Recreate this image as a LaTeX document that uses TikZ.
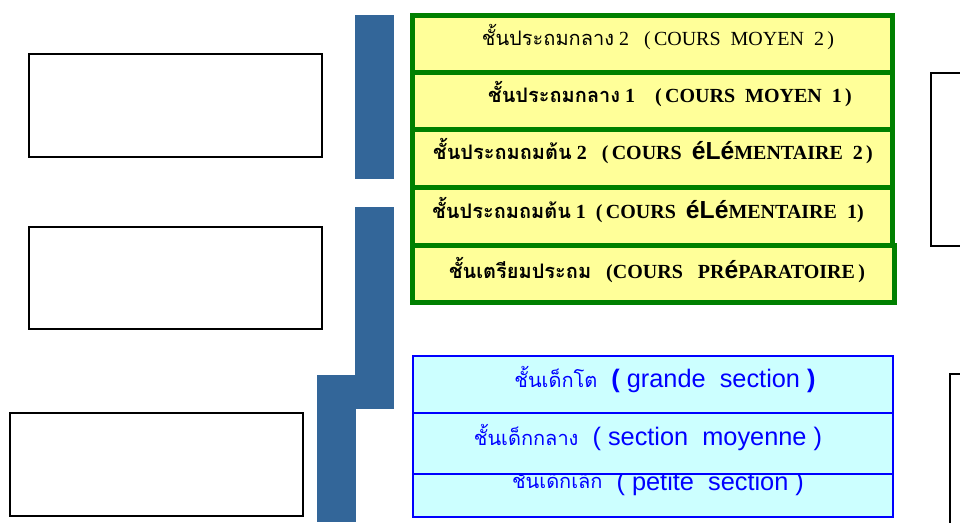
\documentclass[tikz,border=0pt]{standalone}
\usepackage{fontspec}
\setmainfont{Liberation Serif}
\newfontfamily\thaifont[Script=Thai]{Loma}
\newfontfamily\arialfont{Liberation Sans}
\usepackage{tikz}
\usetikzlibrary{positioning}
\definecolor{barblue}{RGB}{51,102,153}
\definecolor{rowgreen}{RGB}{0,128,0}
\definecolor{rowyellow}{RGB}{255,255,153}
\definecolor{rowcyan}{RGB}{204,255,255}
\newcommand{\accE}{{\arialfont\bfseries\fontsize{18.5}{20}\selectfont é}}
\newcommand{\accL}{{\arialfont\bfseries\fontsize{18.5}{20}\selectfont L}}
\newcommand{\kthai}[1]{{\thaifont\fontsize{15}{18}\selectfont #1}}

\begin{document}
\begin{tikzpicture}[x=0.75pt,y=-0.75pt,
    emptybox/.style={draw=black,line width=1.5pt,fill=white},
    bar/.style={fill=barblue},
    greenrow/.style={draw=rowgreen,line width=3.75pt,fill=rowyellow},
    cyanrow/.style={draw=blue,line width=1.5pt,fill=rowcyan},
    yellowtext/.style={anchor=base,inner sep=0pt,font=\fontsize{15}{17}\selectfont},
    cyantext/.style={anchor=base,inner sep=0pt,text=blue,font=\arialfont\fontsize{19}{21}\selectfont}]
    \useasboundingbox (0,0) rectangle (960,522);

    % empty boxes
    \draw[emptybox] (29,54) rectangle (322,157);
    \draw[emptybox] (29,227) rectangle (322,329);
    \draw[emptybox] (10,413) rectangle (303,516);
    \draw[emptybox] (931,73) rectangle (975,246);
    \draw[emptybox] (950,374) rectangle (975,530);

    % bars
    \fill[bar] (355,15) rectangle (394,179);
    \fill[bar] (355,207) rectangle (394,409);
    \fill[bar] (317,375) rectangle (356,522);

    % primary school
    \draw[greenrow] (412.5,15.5) rectangle (892.5,72.5);
    \draw[greenrow] (412.5,72.5) rectangle (892.5,129.5);
    \draw[greenrow] (412.5,129.5) rectangle (892.5,187.5);
    \draw[greenrow] (412.5,187.5) rectangle (892.5,245.5);
    \draw[greenrow] (412.5,245.5) rectangle (894.5,302.5);

    \node[yellowtext] (cm2) at (658,45)
        {{\thaifont ชั้นประถมกลาง} 2\ \ \ (\,COURS\ \ MOYEN\ \ 2\,)};
    \node[yellowtext,font=\fontsize{15}{17}\selectfont\bfseries] (cm1) at (670,102)
        {{\thaifont ชั้นประถมกลาง} 1\ \ \ \ (\,COURS\ \ MOYEN\ \ 1\,)};
    \node[yellowtext,font=\fontsize{15}{17}\selectfont\bfseries] (ce2) at (653,159)
        {{\thaifont ชั้นประถมถมต้น} 2\ \ \ (\,COURS\ \ \accE\accL\accE MENTAIRE\ \ 2\,)};
    \node[yellowtext,font=\fontsize{15}{17}\selectfont\bfseries] (ce1) at (648,218)
        {{\thaifont ชั้นประถมถมต้น} 1\ \ (\,COURS\ \ \accE\accL\accE MENTAIRE\ \ 1)};
    \node[yellowtext,font=\fontsize{15}{17}\selectfont\bfseries] (cp) at (657,278)
        {{\thaifont ชั้นเตรียมประถม}\ \ \ (COURS\ \ \ PR\accE PARATOIRE\,)};

    % kindergarten
    \draw[cyanrow] (413,474) rectangle (893,517);
    \node[cyantext] (ps) at (658,490)
        {\raisebox{1.5pt}{\kthai{ชั้นเด็กเล็ก}}\ \ (\ petite\ \ section\ )};
    \draw[cyanrow] (413,413) rectangle (893,474);
    \node[cyantext] (ms) at (648,445)
        {\kthai{ชั้นเด็กกลาง}\ \ (\ section\ \ moyenne\ )};
    \draw[cyanrow] (413,356) rectangle (893,413);
    \node[cyantext] (gs) at (665,387)
        {\kthai{ชั้นเด็กโต}\ \ {\bfseries(}\ grande\ \ section\ {\bfseries)}};
\end{tikzpicture}
\end{document}
